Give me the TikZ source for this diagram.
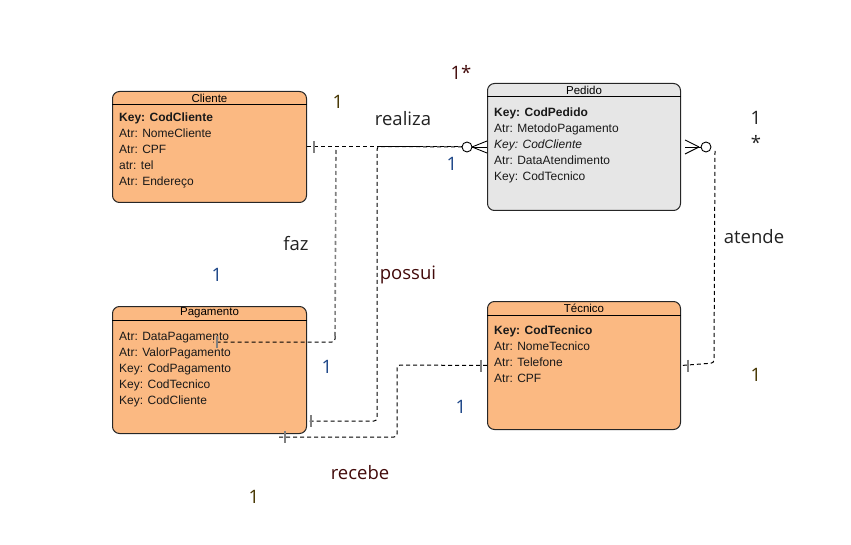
\documentclass[tikz,border=0pt]{standalone}
\usepackage{fontspec}
\setmainfont{Liberation Sans}
\newfontfamily\lblfont{Open Sans}
\usetikzlibrary{calc}
\definecolor{entorange}{HTML}{FBB982}
\definecolor{entgray}{HTML}{E6E6E6}
\definecolor{lblblue}{HTML}{1C4587}
\definecolor{lblred}{HTML}{420A0A}
\definecolor{lblolive}{HTML}{453500}
\definecolor{lbldark}{HTML}{222222}
\definecolor{tickgray}{HTML}{808080}
\begin{document}
\begin{tikzpicture}[x=1pt,y=-1pt,
  entity/.style={draw=black!85, line width=1pt, rounded corners=7pt, fill=entorange, inner sep=0pt, anchor=north west},
  enttitle/.style={inner sep=0pt, font=\fontsize{11.5}{13}\selectfont},
  attr/.style={inner sep=0pt, anchor=base west, font=\fontsize{12}{14}\selectfont, text=black!90},
  conn/.style={draw=black, line width=1pt, dash pattern=on 4pt off 3pt},
  conngray/.style={draw=tickgray, line width=1.6pt, dash pattern=on 4pt off 3pt},
  tickmark/.style={draw=tickgray, line width=1.8pt},
  foot/.style={draw=black, line width=0.9pt},
  lbl/.style={inner sep=0pt, font=\lblfont\fontsize{18.5}{20}\selectfont}
]
\useasboundingbox (0,0) rectangle (851,545);

% ---------- entities ----------
\node[entity, minimum width=194pt, minimum height=111pt] (cli) at (112,91) {};
\draw[line width=1pt] ($(cli.north west)+(0,14)$) -- ($(cli.north east)+(0,14)$);
\node[enttitle] (cli-t) at ($(cli.north)+(0,7)$) {Cliente};
\foreach \t [count=\i] in {{\textbf{Key: CodCliente}},{Atr: NomeCliente},{Atr: CPF},{atr: tel},{Atr: Endereço}}
  \node[attr] (cli-a\i) at (119,106+16*\i) {\t};

\node[entity, fill=entgray, minimum width=193pt, minimum height=127pt] (ped) at (487,83) {};
\draw[line width=1pt] ($(ped.north west)+(0,14)$) -- ($(ped.north east)+(0,14)$);
\node[enttitle] (ped-t) at ($(ped.north)+(0,7)$) {Pedido};
\foreach \t [count=\i] in {{\textbf{Key: CodPedido}},{Atr: MetodoPagamento},{\textit{Key: CodCliente}},{Atr: DataAtendimento},{Key: CodTecnico}}
  \node[attr] (ped-a\i) at (494,101+16*\i) {\t};

\node[entity, minimum width=194pt, minimum height=127pt] (pag) at (112,306) {};
\draw[line width=1pt] ($(pag.north west)+(0,14)$) -- ($(pag.north east)+(0,14)$);
\node[enttitle] (pag-t) at ($(pag.north)+(0,7)$) {Pagamento};
\foreach \t [count=\i] in {{Atr: DataPagamento},{Atr: ValorPagamento},{Key: CodPagamento},{Key: CodTecnico},{Key: CodCliente}}
  \node[attr] (pag-a\i) at (119,324+16*\i) {\t};

\node[entity, minimum width=193pt, minimum height=128pt] (tec) at (487,301) {};
\draw[line width=1pt] ($(tec.north west)+(0,14)$) -- ($(tec.north east)+(0,14)$);
\node[enttitle] (tec-t) at ($(tec.north)+(0,7)$) {Técnico};
\foreach \t [count=\i] in {{\textbf{Key: CodTecnico}},{Atr: NomeTecnico},{Atr: Telefone},{Atr: CPF}}
  \node[attr] (tec-a\i) at (494,318+16*\i) {\t};

% ---------- connector points ----------
\coordinate (pedC) at ($(ped.west)+(-20,0)$);   % circle centre left of Pedido
\coordinate (pedCe) at ($(ped.east)+(25,0)$);   % circle centre right of Pedido
\coordinate (fazEnd) at (213,342);
\coordinate (recEnd) at (278,437);

% realiza
\draw[conn] (cli.east) -- ($(pedC)+(-5,0)$);
\draw[tickmark] ($(cli.east)+(7,-6)$) -- ($(cli.east)+(7,6)$);
% faz
\draw[conngray] ($(cli.east)+(29,3)$) -- (335,337);
\draw[conn, rounded corners=3pt] (335,336) -- (335,342) -- (fazEnd);
\draw[tickmark] ($(fazEnd)+(4,-6)$) -- ($(fazEnd)+(4,6)$);
% possui
\draw[conn, rounded corners=3pt] ($(pedC)+(-5,0)$) -- (377,146.5) -- (377,421) -- (pag.east |- 0,421);
\draw[tickmark] (311,415) -- (311,427);
% recebe
\draw[conn, rounded corners=3pt] (tec.west) -- (397,365) -- (397,437) -- (recEnd);
\draw[tickmark] ($(tec.west)+(-6,-6)$) -- ($(tec.west)+(-6,6)$);
\draw[tickmark] ($(recEnd)+(7,-6)$) -- ($(recEnd)+(7,6)$);
% atende
\draw[conn, rounded corners=3pt] ($(pedCe)+(9,4)$) -- (714,363) -- (tec.east);
\draw[tickmark] ($(tec.east)+(7,-6)$) -- ($(tec.east)+(7,6)$);

% crow's feet + circles
\draw[foot, fill=white] (pedC) circle (5pt);
\draw[foot] ($(pedC)+(5,0)$) -- ($(ped.west)+(0,-6)$);
\draw[foot] ($(pedC)+(5,0)$) -- (ped.west);
\draw[foot] ($(pedC)+(5,0)$) -- ($(ped.west)+(0,6)$);
\draw[foot, fill=white] (pedCe) circle (5pt);
\draw[foot] ($(pedCe)+(-7,0)$) -- ($(ped.east)+(4,-7)$);
\draw[foot] ($(pedCe)+(-5,0)$) -- ($(ped.east)+(4,0)$);
\draw[foot] ($(pedCe)+(-7,0)$) -- ($(ped.east)+(4,7)$);

% ---------- labels ----------
\node[lbl, text=lblolive] (l1) at (338,102) {1};
\node[lbl, text=lblred] (l2) at (461,72) {1*};
\node[lbl, text=lbldark] (l3) at (403,119) {realiza};
\node[lbl, text=lblblue] (l4) at (452,164) {1};
\node[lbl, text=lbldark] (l5) at (296,244) {faz};
\node[lbl, text=lblblue] (l6) at (217,275) {1};
\node[lbl, text=lblred] (l7) at (408,275) {possui};
\node[lbl, text=lblblue] (l8) at (327,367) {1};
\node[lbl, text=lblblue] (l9) at (461,407) {1};
\node[lbl, text=lblred] (l10) at (360,473) {recebe};
\node[lbl, text=lblolive] (l11) at (254,497) {1};
\node[lbl, text=lbldark] (l12) at (754,237) {atende};
\node[lbl, text=lbldark] (l13) at (756,118) {1};
\node[lbl, text=lbldark] (l14) at (756,142) {*};
\node[lbl, text=lblolive] (l15) at (756,375) {1};
\end{tikzpicture}
\end{document}
